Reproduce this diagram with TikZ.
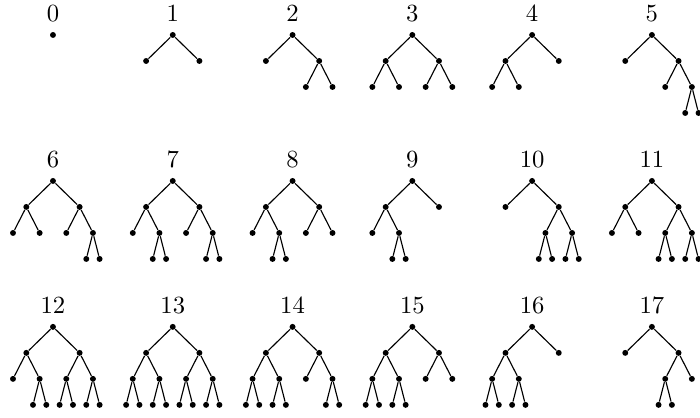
\documentclass[tikz,border=0pt]{standalone}
\usetikzlibrary{positioning}
\tikzset{
  vtx/.style={circle, fill=black, inner sep=0pt, minimum size=2.6pt},
  lbl/.style={anchor=base, inner sep=0pt, font=\fontsize{10.8}{13}\selectfont},
}

\begin{document}
\begin{tikzpicture}[
  level distance=0.4cm,
  level 1/.style={sibling distance=0.82cm},
  level 2/.style={sibling distance=0.41cm},
  level 3/.style={sibling distance=0.205cm},
  every child node/.style={vtx},
  edge from parent/.style={draw, line width=0.5pt},
]
  \useasboundingbox (0,0) rectangle (10.77,-6.43);
  % first row
  \node[vtx] (t0) at (0.815,-0.538) {};
  \node[vtx] (t1) at (2.658,-0.538) {}
    child {node {}} child {node {}};
  \node[vtx] (t2) at (4.501,-0.538) {}
    child {node {}}
    child {node {} child {node {}} child {node {}}};
  \node[vtx] (t3) at (6.344,-0.538) {}
    child {node {} child {node {}} child {node {}}}
    child {node {} child {node {}} child {node {}}};
  \node[vtx] (t4) at (8.187,-0.538) {}
    child {node {} child {node {}} child {node {}}}
    child {node {}};
  \node[vtx] (t5) at (10.030,-0.538) {}
    child {node {}}
    child {node {} child {node {}} child {node {} child {node {}} child {node {}}}};
  % second row
  \node[vtx] (t6) at (0.815,-2.784) {}
    child {node {} child {node {}} child {node {}}}
    child {node {} child {node {}} child {node {} child {node {}} child {node {}}}};
  \node[vtx] (t7) at (2.658,-2.784) {}
    child {node {} child {node {}} child {node {} child {node {}} child {node {}}}}
    child {node {} child {node {}} child {node {} child {node {}} child {node {}}}};
  \node[vtx] (t8) at (4.501,-2.784) {}
    child {node {} child {node {}} child {node {} child {node {}} child {node {}}}}
    child {node {} child {node {}} child {node {}}};
  \node[vtx] (t9) at (6.344,-2.784) {}
    child {node {} child {node {}} child {node {} child {node {}} child {node {}}}}
    child {node {}};
  \node[vtx] (t10) at (8.187,-2.784) {}
    child {node {}}
    child {node {} child {node {} child {node {}} child {node {}}}
                   child {node {} child {node {}} child {node {}}}};
  \node[vtx] (t11) at (10.030,-2.784) {}
    child {node {} child {node {}} child {node {}}}
    child {node {} child {node {} child {node {}} child {node {}}}
                   child {node {} child {node {}} child {node {}}}};
  % third row
  \node[vtx] (t12) at (0.815,-5.029) {}
    child {node {} child {node {}} child {node {} child {node {}} child {node {}}}}
    child {node {} child {node {} child {node {}} child {node {}}}
                   child {node {} child {node {}} child {node {}}}};
  \node[vtx] (t13) at (2.658,-5.029) {}
    child {node {} child {node {} child {node {}} child {node {}}}
                   child {node {} child {node {}} child {node {}}}}
    child {node {} child {node {} child {node {}} child {node {}}}
                   child {node {} child {node {}} child {node {}}}};
  \node[vtx] (t14) at (4.501,-5.029) {}
    child {node {} child {node {} child {node {}} child {node {}}}
                   child {node {} child {node {}} child {node {}}}}
    child {node {} child {node {}} child {node {} child {node {}} child {node {}}}};
  \node[vtx] (t15) at (6.344,-5.029) {}
    child {node {} child {node {} child {node {}} child {node {}}}
                   child {node {} child {node {}} child {node {}}}}
    child {node {} child {node {}} child {node {}}};
  \node[vtx] (t16) at (8.187,-5.029) {}
    child {node {} child {node {} child {node {}} child {node {}}}
                   child {node {} child {node {}} child {node {}}}}
    child {node {}};
  \node[vtx] (t17) at (10.030,-5.029) {}
    child {node {}}
    child {node {} child {node {} child {node {}} child {node {}}} child {node {}}};
  % numbers above the roots
  \foreach \i in {0,...,17}
    \node[lbl] (l\i) at ([yshift=0.21cm]t\i.center) {\i};
\end{tikzpicture}
\end{document}
